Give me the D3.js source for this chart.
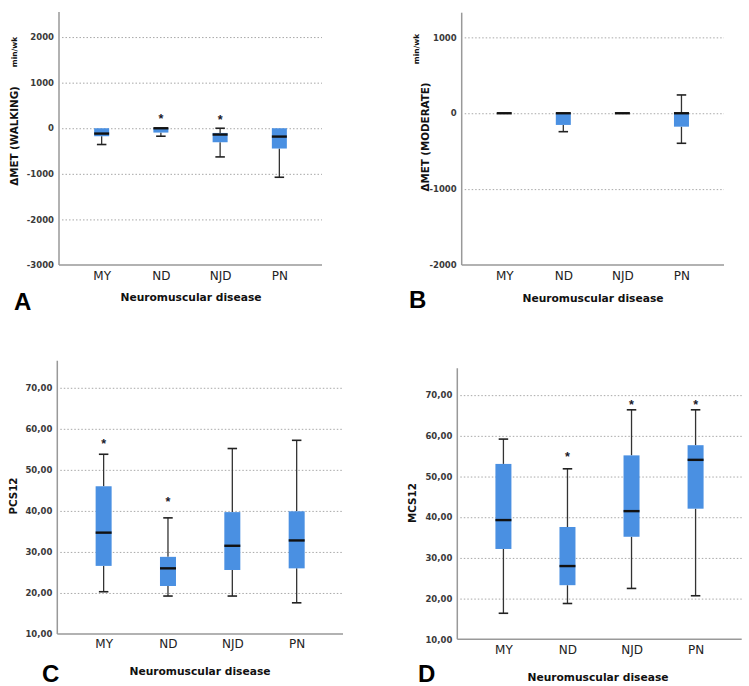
<!DOCTYPE html>
<html>
<head>
<meta charset="utf-8">
<script src="https://cdn.jsdelivr.net/npm/d3@7"></script>
<style>
  html, body { margin: 0; padding: 0; background: #fff; }
  svg { display: block; }
</style>
</head>
<body>
<svg id="chart" width="749" height="686"></svg>
<script>
// ---------- DATA ----------
const categories = ["MY", "ND", "NJD", "PN"];

// Panel A: ΔMET (WALKING) min/wk
const walkMin = [-357, -175, -629, -1075];
const walkQ1  = [-175, -95, -307, -445];
const walkMed = [-117, 0, -138, -183];
const walkQ3  = [0, 0, -103, 0];
const walkMax = [0, 0, 0, 0];
const walkOut = [[], [250], [235], []];
const walkTicks = [-3000, -2000, -1000, 0, 1000, 2000];

// Panel B: ΔMET (MODERATE) min/wk
const modMin = [0, -243, 0, -396];
const modQ1  = [0, -154, 0, -177];
const modMed = [0, 0, 0, 0];
const modQ3  = [0, 0, 0, 0];
const modMax = [0, 0, 0, 241];
const modOut = [[], [], [], []];
const modTicks = [-2000, -1000, 0, 1000];

// Panel C: PCS12
const pcsMin = [20.3, 19.25, 19.25, 17.6];
const pcsQ1  = [26.6, 21.7, 25.6, 26.0];
const pcsMed = [34.7, 26.0, 31.5, 32.8];
const pcsQ3  = [46.0, 28.8, 39.7, 39.9];
const pcsMax = [53.8, 38.3, 55.2, 57.2];
const pcsOut = [[57.0], [42.8], [], []];

// Panel D: MCS12
const mcsMin = [16.4, 18.8, 22.5, 20.7];
const mcsQ1  = [32.2, 23.3, 35.2, 42.1];
const mcsMed = [39.3, 28.0, 41.5, 54.1];
const mcsQ3  = [53.1, 37.6, 55.2, 57.7];
const mcsMax = [59.2, 51.9, 66.4, 66.4];
const mcsOut = [[], [55.3], [68.3], [68.3]];

const scoreTicks = [10, 20, 30, 40, 50, 60, 70];

const xTitle = "Neuromuscular disease";

// ---------- DRAW ----------
const svg = d3.select("#chart");
svg.append("rect").attr("width", 749).attr("height", 686).attr("fill", "#fff");

const fmtInt = v => String(v);
const fmtComma = v => d3.format(".2f")(v).replace(".", ",");

function panel(cfg) {
  const g = svg.append("g");
  const y = d3.scaleLinear().domain(cfg.domain).range([cfg.bottom, cfg.top]);
  const x = d3.scalePoint().domain(categories).range([cfg.left, cfg.right]).padding(0.72);

  // gridlines
  const grid = g.append("g")
    .attr("transform", `translate(${cfg.left},0)`)
    .call(d3.axisLeft(y).tickValues(cfg.ticks.filter(t => t !== cfg.domain[0]))
      .tickSize(-(cfg.right - cfg.left - 3)).tickFormat(""));
  grid.select(".domain").remove();
  grid.selectAll(".tick line")
    .attr("transform", "translate(3,0)")
    .attr("stroke", "#a8a8a8").attr("stroke-width", 1).attr("stroke-dasharray", "1.5,2");

  // y axis labels
  const ya = g.append("g")
    .attr("transform", `translate(${cfg.left - 3},0)`)
    .call(d3.axisLeft(y).tickValues(cfg.ticks).tickSize(0).tickPadding(2).tickFormat(cfg.fmt));
  ya.select(".domain").remove();
  ya.selectAll(".tick text")
    .attr("font-family", "DejaVu Sans, sans-serif")
    .attr("font-size", 8.5).attr("font-weight", 600).attr("fill", "#3a3a3a");

  // axis lines
  g.append("line").attr("x1", cfg.left).attr("x2", cfg.left)
    .attr("y1", cfg.top).attr("y2", cfg.bottom)
    .attr("stroke", "#999").attr("stroke-width", 1.5);
  g.append("line").attr("x1", cfg.left).attr("x2", cfg.right)
    .attr("y1", cfg.bottom).attr("y2", cfg.bottom)
    .attr("stroke", "#999").attr("stroke-width", 1.5);

  // category labels
  const xa = g.append("g")
    .attr("transform", `translate(0,${cfg.bottom})`)
    .call(d3.axisBottom(x).tickSize(0).tickPadding(cfg.catPad));
  xa.select(".domain").remove();
  xa.selectAll(".tick text")
    .attr("font-family", "DejaVu Sans, sans-serif")
    .attr("font-size", 12).attr("font-weight", 500).attr("fill", "#222");

  const bw = cfg.boxW, cw = 9.5;
  categories.forEach((c, i) => {
    const cx = x(c);
    // whiskers
    g.append("line").attr("x1", cx).attr("x2", cx)
      .attr("y1", y(cfg.max[i])).attr("y2", y(cfg.q3[i]))
      .attr("stroke", "#333").attr("stroke-width", 1.3);
    g.append("line").attr("x1", cx).attr("x2", cx)
      .attr("y1", y(cfg.q1[i])).attr("y2", y(cfg.min[i]))
      .attr("stroke", "#333").attr("stroke-width", 1.3);
    if (cfg.max[i] > cfg.q3[i])
      g.append("line").attr("x1", cx - cw / 2).attr("x2", cx + cw / 2)
        .attr("y1", y(cfg.max[i])).attr("y2", y(cfg.max[i]))
        .attr("stroke", "#222").attr("stroke-width", 1.6);
    if (cfg.min[i] < cfg.q1[i])
      g.append("line").attr("x1", cx - cw / 2).attr("x2", cx + cw / 2)
        .attr("y1", y(cfg.min[i])).attr("y2", y(cfg.min[i]))
        .attr("stroke", "#222").attr("stroke-width", 1.6);
    // box
    g.append("rect").attr("x", cx - bw / 2).attr("width", bw)
      .attr("y", y(cfg.q3[i])).attr("height", Math.max(0, y(cfg.q1[i]) - y(cfg.q3[i])))
      .attr("fill", "#4a90e2");
    // median
    g.append("line").attr("x1", cx - bw / 2).attr("x2", cx + bw / 2)
      .attr("y1", y(cfg.med[i])).attr("y2", y(cfg.med[i]))
      .attr("stroke", "#111").attr("stroke-width", 2.4);
    // outliers
    cfg.out[i].forEach(v => {
      g.append("text").attr("x", cx).attr("y", y(v) + 6.5)
        .attr("text-anchor", "middle")
        .attr("font-family", "Liberation Sans, sans-serif")
        .attr("font-size", 12.5).attr("font-weight", 700).attr("fill", "#1a1a2a")
        .text("*");
    });
  });

  // y title
  g.append("text")
    .attr("transform", `translate(${cfg.titleX},${cfg.titleY}) rotate(-90)`)
    .attr("text-anchor", "middle").attr("dominant-baseline", "central")
    .attr("font-family", "DejaVu Sans, sans-serif")
    .attr("font-size", 10.3).attr("font-weight", 700).attr("fill", "#111")
    .text(cfg.yTitle);
  if (cfg.unit) {
    g.append("text")
      .attr("transform", `translate(${cfg.unitX},${cfg.unitY}) rotate(-90)`)
      .attr("text-anchor", "middle").attr("dominant-baseline", "central")
      .attr("font-family", "DejaVu Sans, sans-serif")
      .attr("font-size", 7.5).attr("font-weight", 700).attr("fill", "#111")
      .text(cfg.unit);
  }
  // x title
  g.append("text").attr("x", cfg.xtX).attr("y", cfg.xtY)
    .attr("text-anchor", "middle").attr("dominant-baseline", "central")
    .attr("font-family", "DejaVu Sans, sans-serif")
    .attr("font-size", 10.7).attr("font-weight", 700).attr("fill", "#111")
    .text(xTitle);
  // panel letter
  g.append("text").attr("x", cfg.letX).attr("y", cfg.letY)
    .attr("font-family", "Liberation Sans, Arial, sans-serif")
    .attr("font-size", 24).attr("font-weight", 700).attr("fill", "#000")
    .text(cfg.letter);
}

panel({
  left: 59, right: 322, top: 12, bottom: 265, domain: [-3000, 2550],
  ticks: walkTicks, fmt: fmtInt, catPad: 6, boxW: 15,
  min: walkMin, q1: walkQ1, med: walkMed, q3: walkQ3, max: walkMax, out: walkOut,
  yTitle: "ΔMET (WALKING)", titleX: 14, titleY: 136,
  unit: "min/wk", unitX: 14.5, unitY: 52,
  xtX: 191, xtY: 297, letter: "A", letX: 14, letY: 310
});

panel({
  left: 461.7, right: 724, top: 12.7, bottom: 265, domain: [-2000, 1325],
  ticks: modTicks, fmt: fmtInt, catPad: 6, boxW: 15,
  min: modMin, q1: modQ1, med: modMed, q3: modQ3, max: modMax, out: modOut,
  yTitle: "ΔMET (MODERATE)", titleX: 425, titleY: 137,
  unit: "min/wk", unitX: 416, unitY: 49,
  xtX: 593, xtY: 298, letter: "B", letX: 409, letY: 308
});

panel({
  left: 57.3, right: 343, top: 360.7, bottom: 634, domain: [10, 76.6],
  ticks: scoreTicks, fmt: fmtComma, catPad: 5, boxW: 16,
  min: pcsMin, q1: pcsQ1, med: pcsMed, q3: pcsQ3, max: pcsMax, out: pcsOut,
  yTitle: "PCS12", titleX: 13, titleY: 496,
  unit: null,
  xtX: 200, xtY: 671, letter: "C", letX: 42, letY: 682
});

panel({
  left: 457.3, right: 741.7, top: 368.3, bottom: 639.3, domain: [10, 76.6],
  ticks: scoreTicks, fmt: fmtComma, catPad: 6, boxW: 16,
  min: mcsMin, q1: mcsQ1, med: mcsMed, q3: mcsQ3, max: mcsMax, out: mcsOut,
  yTitle: "MCS12", titleX: 412, titleY: 503,
  unit: null,
  xtX: 598, xtY: 677, letter: "D", letX: 418, letY: 682
});
</script>
</body>
</html>
